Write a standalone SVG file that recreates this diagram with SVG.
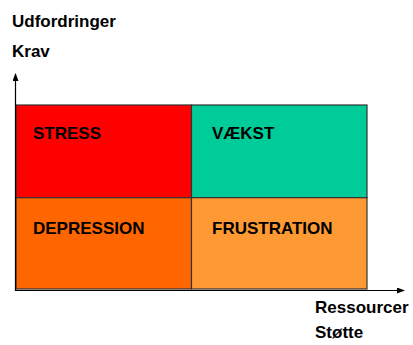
<svg xmlns="http://www.w3.org/2000/svg" width="413" height="345" viewBox="0 0 413 345">
<style>
text{font-family:"Liberation Sans",Arial,sans-serif;font-weight:bold;font-size:17px;fill:#000}
.cell{stroke:#333;stroke-width:1.2}
.axis{stroke:#000;stroke-width:1.2;fill:none}
</style>
<defs>
<marker id="ah" markerWidth="8" markerHeight="6" refX="7" refY="3" orient="auto" markerUnits="userSpaceOnUse">
<path d="M0,0 L8,3 L0,6 Z" fill="#000"/>
</marker>
</defs>
<g id="axis-labels">
<text x="12" y="27">Udfordringer</text>
<text x="12" y="57">Krav</text>
<text x="315" y="313">Ressourcer</text>
<text x="315" y="338">Støtte</text>
</g>
<g id="stress"><rect class="cell" x="16" y="105" width="175.5" height="92.7" fill="#FF0000"/><text x="33" y="139">STRESS</text></g>
<g id="vaekst"><rect class="cell" x="191.5" y="105" width="175.5" height="92.7" fill="#00CC99"/><text x="212" y="139">VÆKST</text></g>
<g id="depression"><rect class="cell" x="16" y="197.7" width="175.5" height="91.3" fill="#FF6600"/><text x="33" y="234">DEPRESSION</text></g>
<g id="frustration"><rect class="cell" x="191.5" y="197.7" width="175.5" height="91.3" fill="#FF9933"/><text x="212" y="234">FRUSTRATION</text></g>
<g id="connectors">
<line class="axis" x1="15.5" y1="291" x2="15.5" y2="74" marker-end="url(#ah)"/>
<line class="axis" x1="15" y1="290.5" x2="404" y2="290.5" marker-end="url(#ah)"/>
</g>
</svg>
